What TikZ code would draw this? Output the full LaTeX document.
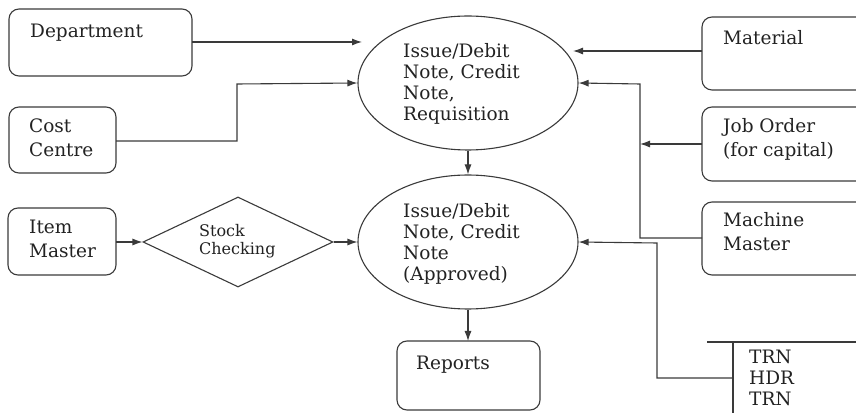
\documentclass[tikz,border=0pt]{standalone}
\usepackage{fontspec}
\setmainfont{DejaVu Serif}
\usetikzlibrary{arrows.meta,shapes.geometric}
\definecolor{ink}{HTML}{3A3A3A}
\definecolor{txt}{HTML}{222222}
\tikzset{
  line/.style={draw=ink, line width=1.1pt},
  flow/.style={line, -{Latex[length=10pt,width=7pt]}},
  roundbox/.style={line, rounded corners=10pt},
  bubble/.style={ellipse, line, minimum width=220pt, minimum height=134pt, inner sep=0pt},
  decision/.style={diamond, line, minimum width=190pt, minimum height=90pt, inner sep=0pt},
  % multi-line labels are placed by the baseline of their last line
  label/.style={anchor=base west, align=left, inner sep=0pt, text=txt,
    font=\fontsize{18.5}{24}\selectfont},
  tightlabel/.style={label, font=\fontsize{18.5}{21.3}\selectfont},
  smalllabel/.style={label, font=\fontsize{16}{18}\selectfont},
}
\begin{document}
\begin{tikzpicture}[x=1pt,y=1pt]
\useasboundingbox (0,0) rectangle (856,412);

% source boxes on the left
\draw[roundbox] (9,403) rectangle (192,336);
\node[label] (dept) at (30,374) {Department};
\coordinate (deptE) at (192,370);
\draw[roundbox] (9,305) rectangle (116,239);
\node[label] (cost) at (29,255) {Cost\\Centre};
\coordinate (costE) at (116,271);
\draw[roundbox] (8,204) rectangle (116,137);
\node[label] (item) at (29,154) {Item\\Master};
\coordinate (itemE) at (116,170);

% source boxes on the right
\draw[roundbox] (702,395) rectangle (868,322);
\node[label] (mat) at (723,367) {Material};
\coordinate (matW) at (702,361);
\draw[roundbox] (702,305) rectangle (868,231);
\node[label] (job) at (723,255) {Job Order\\(for capital)};
\coordinate (jobW) at (702,268);
\draw[roundbox] (702,210) rectangle (868,137);
\node[label] (mach) at (723,161) {Machine\\Master};
\coordinate (machW) at (702,174);

% transaction file
\draw[line] (707,70) -- (860,70);
\draw[line] (733,70) -- (733,-2);
\node[tightlabel] (trn) at (749,6) {TRN\\HDR\\TRN};
\coordinate (trnW) at (733,34);

% process bubbles
\node[bubble] (req) at (468,329) {};
\node[tightlabel] (reqtxt) at (403,291) {Issue/Debit\\Note, Credit\\Note,\\Requisition};
\node[bubble] (appr) at (468,170) {};
\node[tightlabel] (apprtxt) at (403,131) {Issue/Debit\\Note, Credit\\Note\\(Approved)};

% stock check
\node[decision] (chk) at (238,170) {};
\node[smalllabel] (chktxt) at (199,157) {Stock\\Checking};

% reports
\draw[roundbox] (397,71) rectangle (540,2);
\node[label] (rep) at (416,42) {Reports};
\coordinate (repN) at (468,71);

% connectors
\coordinate (deptTip) at (362,370);
\coordinate (matTip) at (573,361);
\draw[flow] (deptE) -- (deptTip);
\draw[flow] (costE) -- (237,271) -- (237,328) -- (req.west);
\draw[flow] (matW) -- (matTip);
\draw[flow] (machW) -- (640,174) -- (640,328) -- (req.east);
\coordinate (jobTip) at (640,268);
\draw[flow] (jobW) -- (jobTip);
\draw[flow] (trnW) -- (657,34) -- (657,169) -- (appr.east);
\draw[flow] (itemE) -- (chk.west);
\draw[flow] (chk.east) -- (appr.west);
\draw[flow] (req.south) -- (appr.north);
\draw[flow] (appr.south) -- (repN);
\end{tikzpicture}
\end{document}
